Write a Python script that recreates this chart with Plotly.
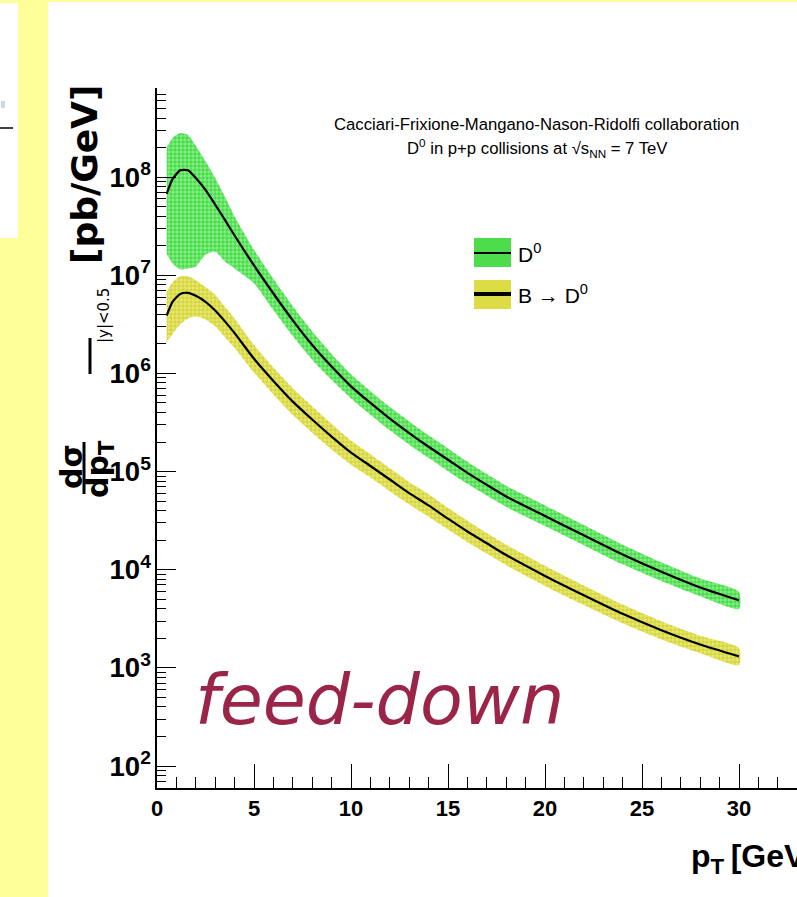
import plotly.graph_objects as go

# transverse momentum grid [GeV]
pt = [0.5, 0.8, 1.2, 1.6, 2.0, 2.5, 3.0, 3.5, 4.0, 5.0, 6.0, 7.0, 8.0, 9.0, 10.0,
      11.0, 12.0, 13.0, 14.0, 15.0, 16.0, 17.0, 18.0, 20.0, 22.0, 24.0, 26.0, 28.0, 30.0]

# prompt D0 cross section [pb/GeV]: central value and uncertainty band
d0_central = [6.76e7, 9.55e7, 1.175e8, 1.175e8, 9.77e7, 7.41e7, 5.25e7, 3.67e7, 2.54e7, 1.26e7,
              6.52e6, 3.47e6, 1.95e6, 1.175e6, 7.38e5, 5.0e5, 3.47e5, 2.47e5, 1.79e5, 1.32e5,
              9.7e4, 7.31e4, 5.57e4, 3.53e4, 2.24e4, 1.43e4, 9.53e3, 6.59e3, 4.88e3]
d0_upper = [2.0e8, 2.51e8, 2.82e8, 2.69e8, 2.09e8, 1.45e8, 9.77e7, 6.31e7, 3.98e7, 1.82e7,
            9.2e6, 4.84e6, 2.69e6, 1.58e6, 9.8e5, 6.6e5, 4.57e5, 3.24e5, 2.34e5, 1.72e5,
            1.26e5, 9.44e4, 7.16e4, 4.52e4, 2.85e4, 1.80e4, 1.19e4, 8.13e3, 5.96e3]
d0_lower = [1.66e7, 1.32e7, 1.15e7, 1.175e7, 1.23e7, 1.62e7, 1.74e7, 1.38e7, 1.175e7, 8.3e6,
            4.42e6, 2.4e6, 1.38e6, 8.6e5, 5.56e5, 3.8e5, 2.63e5, 1.88e5, 1.38e5, 1.01e5,
            7.5e4, 5.69e4, 4.37e4, 2.79e4, 1.78e4, 1.135e4, 7.67e3, 5.37e3, 3.98e3]

# D0 from B decays [pb/GeV]
b_central = [3.89e6, 5.37e6, 6.46e6, 6.61e6, 6.17e6, 5.37e6, 4.37e6, 3.39e6, 2.57e6, 1.41e6,
             8.38e5, 5.16e5, 3.39e5, 2.27e5, 1.56e5, 1.14e5, 8.3e4, 6.03e4, 4.52e4, 3.31e4,
             2.45e4, 1.86e4, 1.41e4, 8.65e3, 5.5e3, 3.55e3, 2.42e3, 1.73e3, 1.31e3]
b_upper = [6.76e6, 8.51e6, 9.77e6, 9.77e6, 8.91e6, 7.59e6, 6.31e6, 4.79e6, 3.63e6, 1.95e6,
           1.15e6, 7.08e5, 4.62e5, 3.05e5, 2.07e5, 1.50e5, 1.08e5, 7.85e4, 5.89e4, 4.27e4,
           3.16e4, 2.37e4, 1.80e4, 1.10e4, 6.92e3, 4.42e3, 2.99e3, 2.13e3, 1.60e3]
b_lower = [2.09e6, 2.51e6, 3.16e6, 3.63e6, 3.80e6, 3.55e6, 3.02e6, 2.34e6, 1.82e6, 1.02e6,
           6.1e5, 3.76e5, 2.48e5, 1.68e5, 1.175e5, 8.7e4, 6.31e4, 4.62e4, 3.47e4, 2.57e4,
           1.91e4, 1.46e4, 1.11e4, 6.84e3, 4.37e3, 2.85e3, 1.95e3, 1.41e3, 1.07e3]

legend_labels = ["D<sup>0</sup>", "B \u2192 D<sup>0</sup>"]

W, H = 797, 897
ML, MR, MT, MB = 157, 0, 88, 109
PW, PH = W - ML - MR, H - MT - MB


def px(x):
    """pixel column -> paper x"""
    return (x - ML) / PW


def py(y):
    """pixel row -> paper y"""
    return (H - MB - y) / PH


SANS = "Liberation Sans, Arial, Helvetica, sans-serif"
SLIDE_YELLOW = "#ffff99"
GREEN_FG, GREEN_BG = "#00d400", "#8eea8e"
YEL_FG, YEL_BG = "#c4c400", "#e8e878"

fig = go.Figure()


def add_band(upper, lower, fg, bg):
    fig.add_trace(go.Scatter(
        x=pt + pt[::-1], y=upper + lower[::-1],
        mode="lines", line=dict(width=0, shape="spline", smoothing=0.6),
        fill="toself", fillcolor=bg,
        fillpattern=dict(shape=".", fgcolor=fg, bgcolor=bg, size=4, solidity=0.6),
        hoverinfo="skip", showlegend=False))


add_band(d0_upper, d0_lower, GREEN_FG, GREEN_BG)
add_band(b_upper, b_lower, YEL_FG, YEL_BG)

for yc in (d0_central, b_central):
    fig.add_trace(go.Scatter(x=pt, y=yc, mode="lines",
                             line=dict(color="black", width=2.2, shape="spline", smoothing=0.6),
                             showlegend=False))

shapes = []
# slide background pieces
shapes.append(dict(type="rect", xref="paper", yref="paper", x0=px(18), x1=px(48),
                   y0=py(H), y1=py(0), fillcolor=SLIDE_YELLOW, line=dict(width=0)))
shapes.append(dict(type="rect", xref="paper", yref="paper", x0=px(0), x1=px(18),
                   y0=py(H), y1=py(238), fillcolor=SLIDE_YELLOW, line=dict(width=0)))
shapes.append(dict(type="rect", xref="paper", yref="paper", x0=px(0), x1=px(18),
                   y0=py(3), y1=py(0), fillcolor=SLIDE_YELLOW, line=dict(width=0)))
shapes.append(dict(type="rect", xref="paper", yref="paper", x0=px(48), x1=px(W),
                   y0=py(2), y1=py(0), fillcolor=SLIDE_YELLOW, line=dict(width=0)))
shapes.append(dict(type="line", xref="paper", yref="paper", x0=px(0), x1=px(13),
                   y0=py(128), y1=py(128), line=dict(color="black", width=1.5)))
shapes.append(dict(type="rect", xref="paper", yref="paper", x0=px(1), x1=px(5),
                   y0=py(108), y1=py(101), fillcolor="#c8d8f0", line=dict(width=0)))

# legend swatches
shapes.append(dict(type="rect", xref="paper", yref="paper", x0=px(474), x1=px(511),
                   y0=py(267), y1=py(238), fillcolor="#4cdc4c", line=dict(width=0)))
shapes.append(dict(type="line", xref="paper", yref="paper", x0=px(474), x1=px(511),
                   y0=py(253), y1=py(253), line=dict(color="black", width=2)))
shapes.append(dict(type="rect", xref="paper", yref="paper", x0=px(474), x1=px(511),
                   y0=py(309), y1=py(280), fillcolor="#dcdc44", line=dict(width=0)))
shapes.append(dict(type="line", xref="paper", yref="paper", x0=px(474), x1=px(511),
                   y0=py(294), y1=py(294), line=dict(color="black", width=4)))

# fraction bar and evaluation bar of the y title
shapes.append(dict(type="line", xref="paper", yref="paper", x0=px(84), x1=px(84),
                   y0=py(442), y1=py(494), line=dict(color="black", width=3)))
shapes.append(dict(type="line", xref="paper", yref="paper", x0=px(90), x1=px(90),
                   y0=py(338), y1=py(374), line=dict(color="black", width=3)))

annotations = []


def note(text, x, y, size, family=SANS, angle=0, xanchor="center", color="black", weight="normal"):
    annotations.append(dict(text=text, xref="paper", yref="paper", x=px(x), y=py(y),
                            xanchor=xanchor, yanchor="middle", showarrow=False,
                            textangle=angle,
                            font=dict(family=family, size=size, color=color, weight=weight)))


note("Cacciari-Frixione-Mangano-Nason-Ridolfi collaboration", 536, 125, 16.7)
note("D<sup>0</sup> in p+p collisions at \u221As<sub>NN</sub> = 7 TeV", 537, 148, 16.7)
note(legend_labels[0], 516, 253, 21, xanchor="left")
note(legend_labels[1], 516, 294, 21, xanchor="left")
note("<i>feed-down</i>", 379, 700, 70, family="DejaVu Sans", color="#9b2449")
note("p<sub>T</sub>\u2009[GeV]", 689, 858, 32, xanchor="left", weight="bold")

# rotated y title pieces
note("[pb/GeV]", 84, 175, 36, family="DejaVu Sans", angle=-90, weight="bold")
note("d\u03c3", 72, 467, 30, family="DejaVu Sans", angle=-90, weight="bold")
note("dp<sub>T</sub>", 99, 469, 30, family="DejaVu Sans", angle=-90, weight="bold")
note("|y|<0.5", 104, 316, 15, family="DejaVu Sans", angle=-90)

tick_font = dict(family=SANS, size=22, color="black", weight="bold")

fig.update_layout(
    width=W, height=H,
    margin=dict(l=ML, r=MR, t=MT, b=MB, pad=0),
    paper_bgcolor="white", plot_bgcolor="white",
    showlegend=False,
    shapes=shapes, annotations=annotations,
    xaxis=dict(range=[0, (W - ML) / 19.4], showline=True, linecolor="black", linewidth=1.5,
               ticks="inside", ticklen=24, tickwidth=1.2, tickcolor="black",
               tick0=0, dtick=5, showgrid=False, zeroline=False,
               minor=dict(ticks="inside", ticklen=11, dtick=1, tickcolor="black", tickwidth=1.2),
               tickfont=tick_font),
    yaxis=dict(type="log", range=[1.776, 8.908], showline=True, linecolor="black", linewidth=1.5,
               ticks="inside", ticklen=19, tickwidth=1.2, tickcolor="black",
               dtick=1, exponentformat="power", showgrid=False, zeroline=False,
               minor=dict(ticks="inside", ticklen=9, tickcolor="black", tickwidth=1.2),
               tickfont=tick_font),
)

fig.write_html("out.html")
